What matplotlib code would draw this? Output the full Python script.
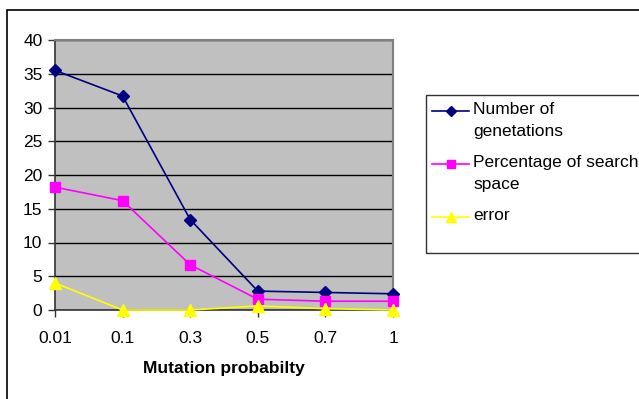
import matplotlib
matplotlib.use("Agg")
import matplotlib.pyplot as plt
from matplotlib.lines import Line2D
from matplotlib.patches import Rectangle

plt.rcParams['font.family'] = ['Liberation Sans', 'DejaVu Sans']

categories = ["0.01", "0.1", "0.3", "0.5", "0.7", "1"]
generations = [35.5, 31.7, 13.4, 2.8, 2.6, 2.4]
search_space = [18.2, 16.2, 6.7, 1.6, 1.3, 1.3]
error = [4.0, 0.0, 0.0, 0.6, 0.2, 0.0]
y_ticks = [0, 5, 10, 15, 20, 25, 30, 35, 40]
series_labels = ["Number of\ngenetations", "Percentage of search\nspace", "error"]

W, H = 639, 399
fig = plt.figure(figsize=(W / 100, H / 100), dpi=100)
fig.patch.set_facecolor("white")

# outer chart frame (runs off the right and bottom edges)
fig.patches.append(Rectangle((7 / W, -0.05), 1.1, 1 - 10 / H + 0.05,
                             transform=fig.transFigure, fill=False,
                             edgecolor="black", linewidth=1.2, clip_on=False))

ax = fig.add_axes([55 / W, 1 - 310 / H, (393 - 55) / W, (310 - 40) / H])
ax.set_facecolor("#C0C0C0")
x = list(range(len(categories)))

styles = [
    dict(color="#000080", marker="D", markersize=6),
    dict(color="#FF00FF", marker="s", markersize=7),
    dict(color="#FFFF00", marker="^", markersize=8),
]
for vals, st in zip([generations, search_space, error], styles):
    ax.plot(x, vals, color=st["color"], marker=st["marker"],
            markersize=st["markersize"], markerfacecolor=st["color"],
            markeredgecolor=st["color"], linewidth=1.2, clip_on=False, zorder=3)

ax.set_xlim(0, len(categories) - 1)
ax.set_ylim(0, 40)
ax.set_yticks(y_ticks)
ax.set_xticks(x)
ax.set_xticklabels(categories)
ax.yaxis.grid(True, color="black", linewidth=1.0)
ax.set_axisbelow(True)
ax.tick_params(axis="both", labelsize=12.5, length=5, width=1, color="#333333", direction="out")
ax.tick_params(axis="x", pad=10)
ax.tick_params(axis="y", pad=4)

for side in ["top", "right"]:
    ax.spines[side].set_color("#808080")
    ax.spines[side].set_linewidth(1.5)
for side in ["left", "bottom"]:
    ax.spines[side].set_color("#333333")
    ax.spines[side].set_linewidth(1.2)

ax.set_xlabel("Mutation probabilty", fontsize=12.5, fontweight="bold", labelpad=11)

# legend box, drawn by hand so each handle sits on the first text line
fig.patches.append(Rectangle((426 / W, 1 - 253 / H), 1.0, (253 - 95) / H,
                             transform=fig.transFigure, fill=False,
                             edgecolor="#333333", linewidth=1.0, clip_on=False))
rows = [111, 164, 217]
for lbl, st, yr in zip(series_labels, styles, rows):
    yf = 1 - yr / H
    fig.lines.append(Line2D([432 / W, 469 / W], [yf, yf], transform=fig.transFigure,
                            color=st["color"], linewidth=1.2))
    fig.lines.append(Line2D([450.5 / W], [yf], transform=fig.transFigure,
                            color=st["color"], marker=st["marker"],
                            markersize=st["markersize"] - 1, linestyle="none"))
    fig.text(473 / W, yf + 9 / H, lbl, fontsize=12.5, va="top", ha="left",
             linespacing=1.55, transform=fig.transFigure)

fig.savefig("out.png", dpi=100)
